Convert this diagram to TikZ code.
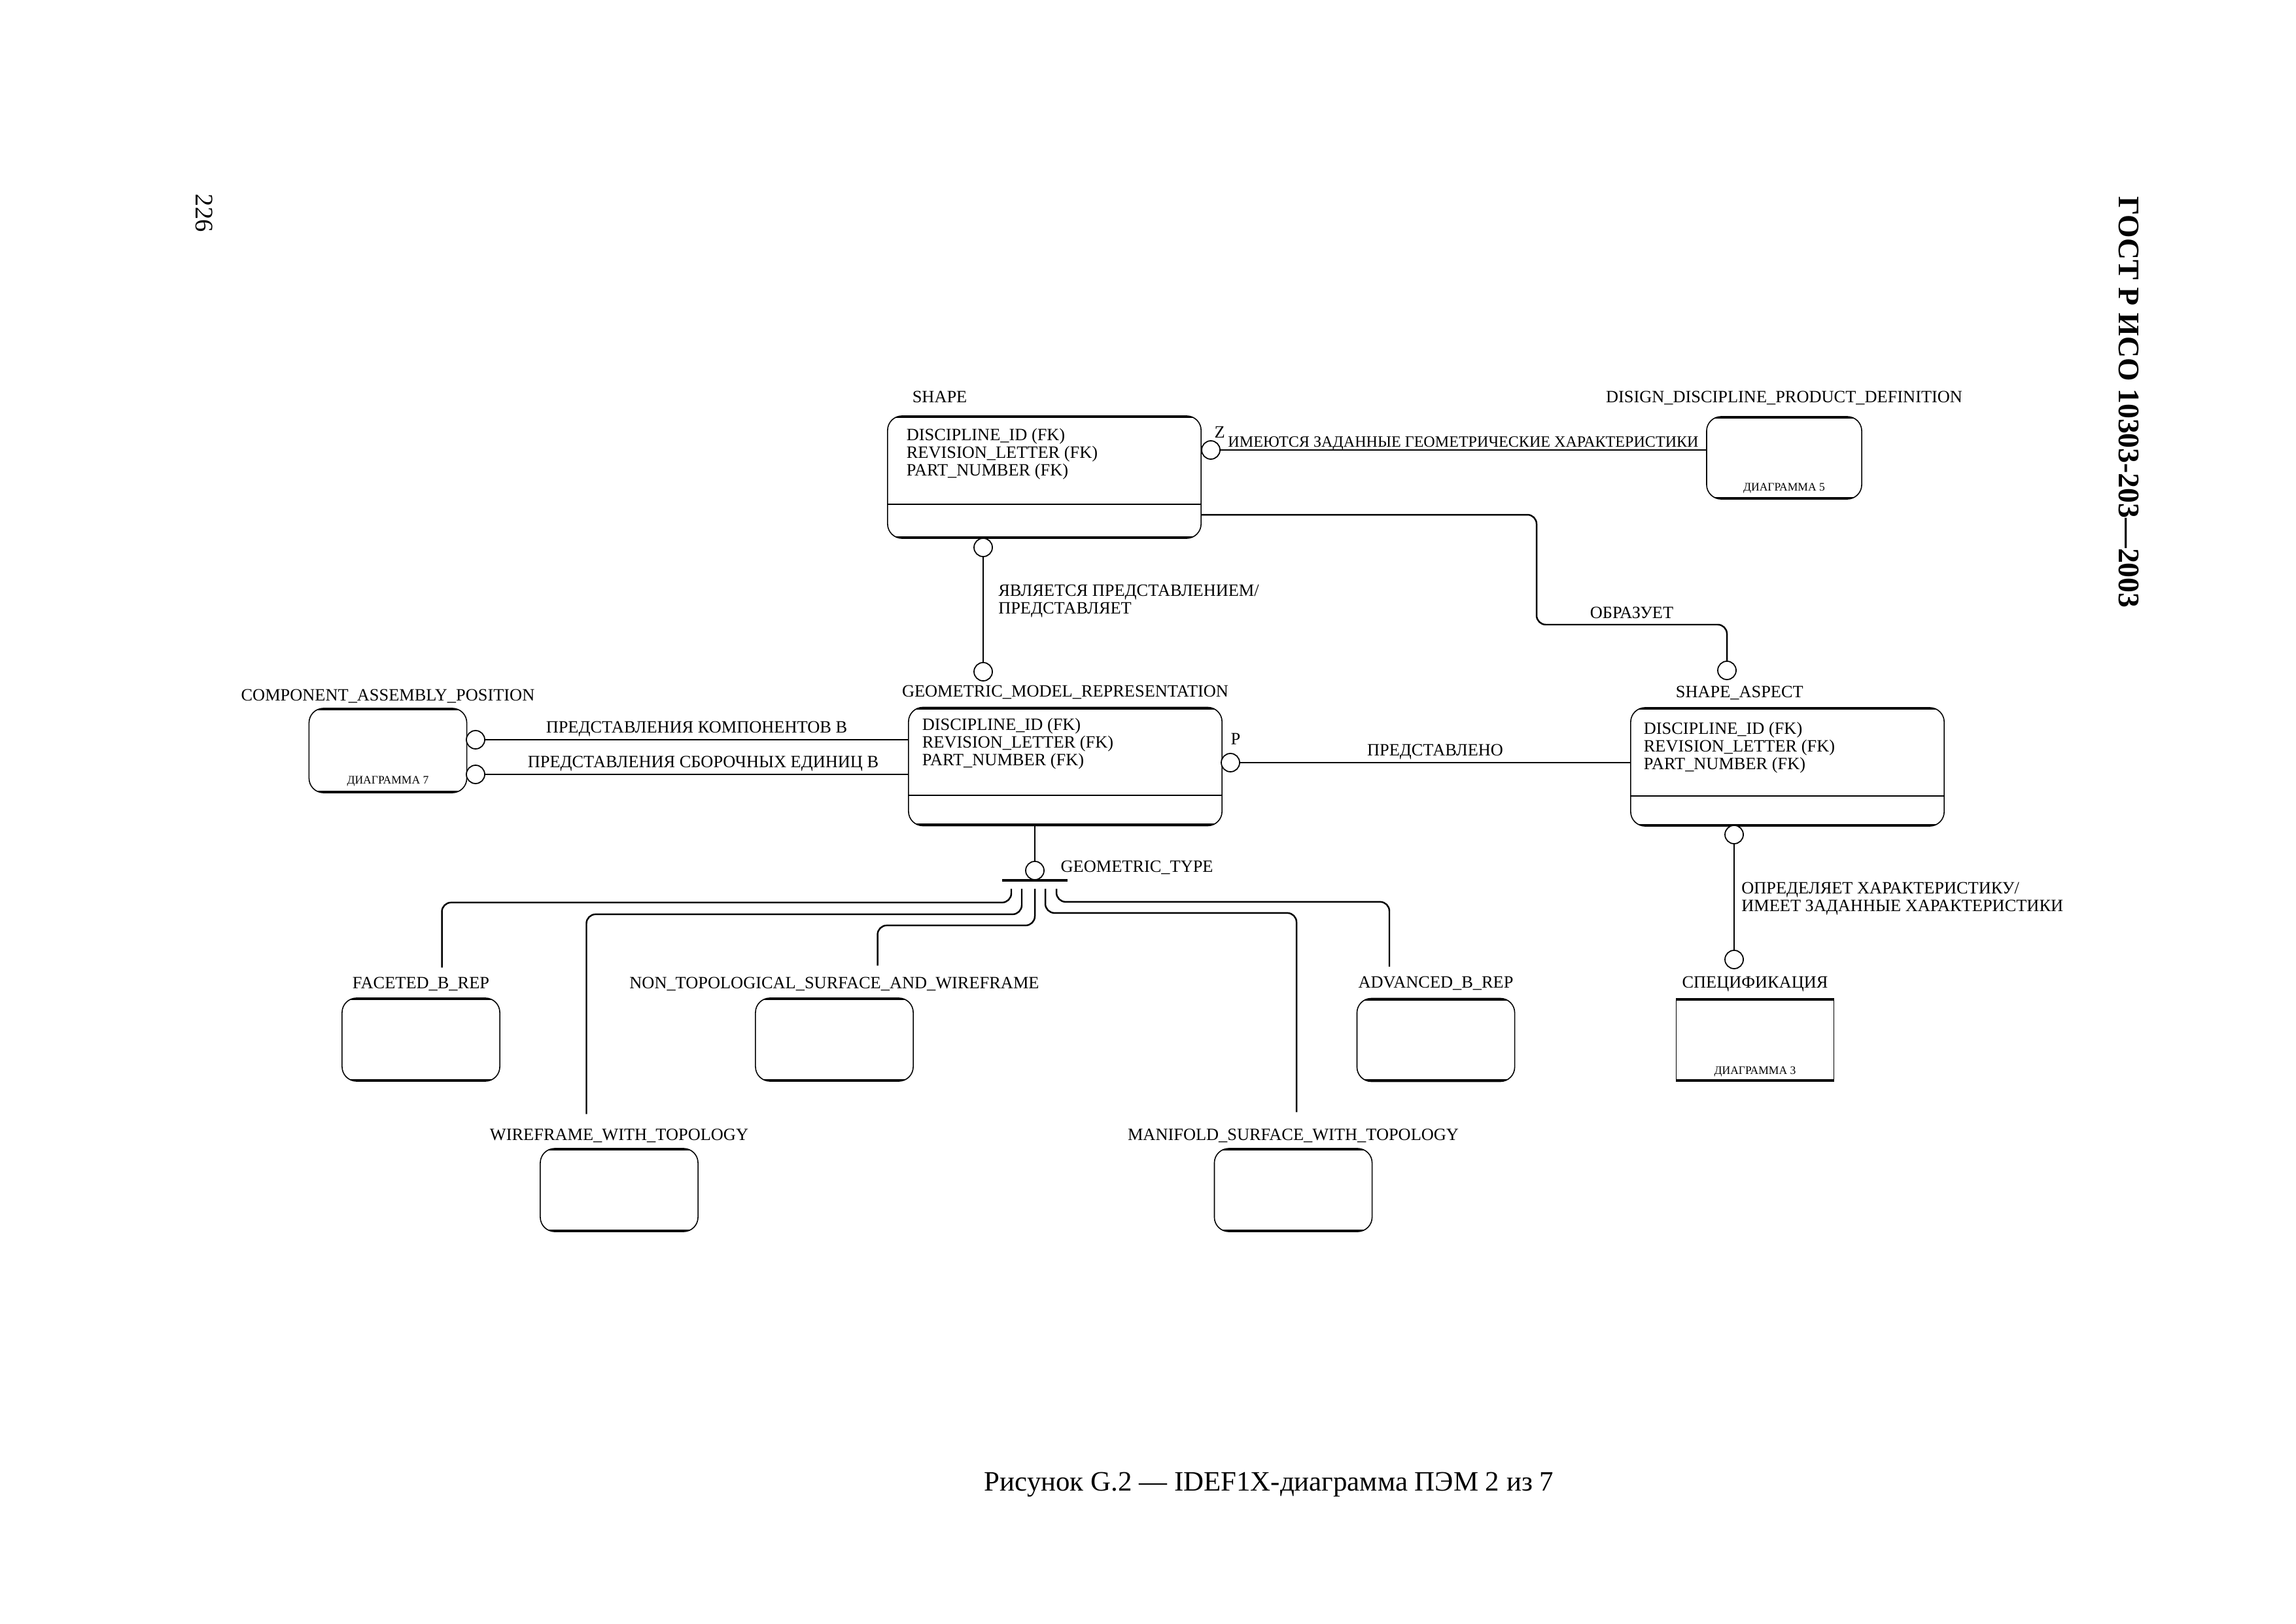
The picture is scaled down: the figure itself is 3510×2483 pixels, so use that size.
\documentclass[tikz,border=0pt]{standalone}
\usepackage{fontspec}
\setmainfont{Liberation Serif}
\usetikzlibrary{positioning}
\newcommand\erfont{\fontsize{7.5}{7.7}\selectfont}
\newcommand\diafont{\fontsize{5}{5}\selectfont}

\begin{document}
\begin{tikzpicture}[x=0.01cm, y=-0.01cm,
  ent/.style={draw, rounded corners=2.2mm, line width=0.45pt, inner sep=0pt,
    path picture={\draw[line width=2pt] (path picture bounding box.north west) -- (path picture bounding box.north east)
      (path picture bounding box.south west) -- (path picture bounding box.south east);}},
  small/.style={ent, minimum width=24.1mm, minimum height=12.7mm},
  big/.style={ent, minimum width=47.9mm, minimum height=18.1mm},
  ename/.style={font=\erfont, inner sep=0pt, text depth=0pt},
  attr/.style={font=\erfont, align=left, inner sep=0pt, anchor=north west},
  dia/.style={font=\diafont, inner sep=0pt, text depth=0pt},
  dot/.style={circle, draw, fill=white, minimum size=2.8mm, inner sep=0pt, line width=0.5pt},
  rel/.style={line width=0.7pt},
  verb/.style={font=\erfont, inner sep=0pt, text depth=0pt}
]
\useasboundingbox (0,0) rectangle (3510,2483);

% entities
\node[big, minimum height=18.7mm] (shape) at (1596.5,729.5) {};
\node[small, minimum width=23.7mm, minimum height=12.6mm] (ddpd) at (2727.5,700) {};
\node[big] (gmr) at (1628.5,1172) {};
\node[big] (sa) at (2732.5,1172.5) {};
\node[small, minimum height=12.9mm] (cap) at (593,1147.5) {};
\node[small] (fbrep) at (643.5,1589.5) {};
\node[small] (ntsw) at (1275.5,1589.5) {};
\node[small] (abrep) at (2195,1590) {};
\node[small, sharp corners] (spec) at (2683,1590) {};
\node[small] (wwt) at (946.5,1819.5) {};
\node[small] (mswt) at (1977,1819.5) {};

\draw[line width=0.6pt] ([yshift=5.3mm]shape.south west) -- ([yshift=5.3mm]shape.south east);
\draw[line width=0.6pt] ([yshift=4.7mm]gmr.south west) -- ([yshift=4.7mm]gmr.south east);
\draw[line width=0.6pt] ([yshift=4.7mm]sa.south west) -- ([yshift=4.7mm]sa.south east);

\node[attr] (shape-a) at ([xshift=2.9mm, yshift=-1.9mm]shape.north west) {DISCIPLINE\_ID (FK)\\REVISION\_LETTER (FK)\\PART\_NUMBER (FK)};
\node[attr] (gmr-a) at ([xshift=2.1mm, yshift=-1.7mm]gmr.north west) {DISCIPLINE\_ID (FK)\\REVISION\_LETTER (FK)\\PART\_NUMBER (FK)};
\node[attr] (sa-a) at ([xshift=2.0mm, yshift=-2.2mm]sa.north west) {DISCIPLINE\_ID (FK)\\REVISION\_LETTER (FK)\\PART\_NUMBER (FK)};

% entity names
\node[ename, above right=1.9mm and 3.8mm of shape.north west] (shape-l) {SHAPE};
\node[ename, above=2.0mm of ddpd] (ddpd-l) {DISIGN\_DISCIPLINE\_PRODUCT\_DEFINITION};
\node[ename, above=1.4mm of gmr] (gmr-l) {GEOMETRIC\_MODEL\_REPRESENTATION};
\node[ename, above right=1.4mm and 6.9mm of sa.north west] (sa-l) {SHAPE\_ASPECT};
\node[ename, above=1.0mm of cap] (cap-l) {COMPONENT\_ASSEMBLY\_POSITION};
\node[ename, above=1.3mm of fbrep] (fbrep-l) {FACETED\_B\_REP};
\node[ename, above=1.3mm of ntsw] (ntsw-l) {NON\_TOPOLOGICAL\_SURFACE\_AND\_WIREFRAME};
\node[ename, above=1.4mm of abrep] (abrep-l) {ADVANCED\_B\_REP};
\node[ename, above=1.4mm of spec] (spec-l) {СПЕЦИФИКАЦИЯ};
\node[ename, above=1.1mm of wwt] (wwt-l) {WIREFRAME\_WITH\_TOPOLOGY};
\node[ename, above=1.1mm of mswt] (mswt-l) {MANIFOLD\_SURFACE\_WITH\_TOPOLOGY};

\node[dia, above=1.3mm of ddpd.south] (ddpd-d) {ДИАГРАММА 5};
\node[dia, above=1.4mm of cap.south] (cap-d) {ДИАГРАММА 7};
\node[dia, above=1.1mm of spec.south] (spec-d) {ДИАГРАММА 3};

% relationship ends
\node[dot] (z1) at (1851,688) {};
\node[dot] (s1) at (1503,837) {};
\node[dot] (g1) at (1503,1027) {};
\node[dot] (p1) at (1881,1166) {};
\node[dot] (o1) at (2640,1025) {};
\node[dot] (a1) at (2651,1276) {};
\node[dot] (sp1) at (2651,1467) {};
\node[dot] (c1) at (727,1131) {};
\node[dot] (c2) at (727,1184) {};
\node[dot] (gt) at (1582,1331) {};

% relationships
\draw[rel] (z1) -- node[verb, midway, above=0.3mm, font=\fontsize{6.85}{7}\selectfont] {ИМЕЮТСЯ ЗАДАННЫЕ ГЕОМЕТРИЧЕСКИЕ ХАРАКТЕРИСТИКИ} (z1 -| ddpd.west);
\node[verb, anchor=base west] (z1-t) at ([xshift=0.5mm, yshift=0.4mm]z1.north) {Z};
\draw[rel] (s1) -- node[verb, pos=0.4, right=2.2mm, align=left] {ЯВЛЯЕТСЯ ПРЕДСТАВЛЕНИЕМ/\\ПРЕДСТАВЛЯЕТ} (g1);
\coordinate (obr1) at (2349,955);
\coordinate (obr2) at (2640,955);
\draw[rel, rounded corners=4pt] ([yshift=-5.75mm]shape.east) -| (obr1) -- node[verb, midway, above=0.8mm] {ОБРАЗУЕТ} (obr2) -- (o1);
\draw[rel] (p1) -- node[verb, midway, above=0.9mm] {ПРЕДСТАВЛЕНО} (p1 -| sa.west);
\node[verb, anchor=base west] (p1-t) at ([yshift=1.25mm]p1.north) {P};
\draw[rel] (c1) -- node[verb, midway, above=0.9mm] {ПРЕДСТАВЛЕНИЯ КОМПОНЕНТОВ В} (c1 -| gmr.west);
\draw[rel] (c2) -- node[verb, midway, above=0.9mm, xshift=1mm] {ПРЕДСТАВЛЕНИЯ СБОРОЧНЫХ ЕДИНИЦ В} (c2 -| gmr.west);
\draw[rel] (a1) -- node[verb, midway, right=1mm, align=left] {ОПРЕДЕЛЯЕТ ХАРАКТЕРИСТИКУ/\\ИМЕЕТ ЗАДАННЫЕ ХАРАКТЕРИСТИКИ} (sp1);

% category
\draw[rel] (gt |- gmr.south) -- (gt);
\draw[line width=1pt] ([xshift=-5mm]gt.south) -- ([xshift=5mm]gt.south);
\node[verb, anchor=base west] (gt-t) at ([xshift=2.4mm, yshift=-0.2mm]gt.east) {GEOMETRIC\_TYPE};
\coordinate (k1) at ([xshift=-3.6mm, yshift=-1.3mm]gt.south);
\coordinate (k2) at ([xshift=-2.0mm, yshift=-1.3mm]gt.south);
\coordinate (k3) at ([yshift=-1.3mm]gt.south);
\coordinate (k4) at ([xshift=1.6mm, yshift=-1.3mm]gt.south);
\coordinate (k5) at ([xshift=3.3mm, yshift=-1.3mm]gt.south);
\draw[rel, rounded corners=4pt, shorten >=1.4mm] (k1) -- ++(0,21) -| ([xshift=3.2mm]fbrep-l.north);
\draw[rel, rounded corners=4pt, shorten >=2.2mm] (k2) -- ++(0,39) -| ([xshift=-5mm]wwt-l.north);
\draw[rel, rounded corners=4pt, shorten >=1.7mm] (k3) -- ++(0,56) -| ([xshift=6.6mm]ntsw-l.north);
\draw[rel, rounded corners=4pt, shorten >=2.5mm] (k4) -- ++(0,37) -| ([xshift=0.5mm]mswt-l.north);
\draw[rel, rounded corners=4pt, shorten >=1.5mm] (k5) -- ++(0,20) -| ([xshift=-7.1mm]abrep-l.north);

% page furniture
\node[font=\fontsize{11}{11}\selectfont, rotate=-90] (pageno) at (312,326) {226};
\node[font=\bfseries\fontsize{13}{13}\selectfont, rotate=-90] (gost) at (3254,615) {ГОСТ Р ИСО 10303-203—2003};
\node[font=\fontsize{12.2}{12.2}\selectfont, anchor=base] (caption) at (1940,2279) {Рисунок G.2 — IDEF1X-диаграмма ПЭМ 2 из 7};
\end{tikzpicture}
\end{document}
